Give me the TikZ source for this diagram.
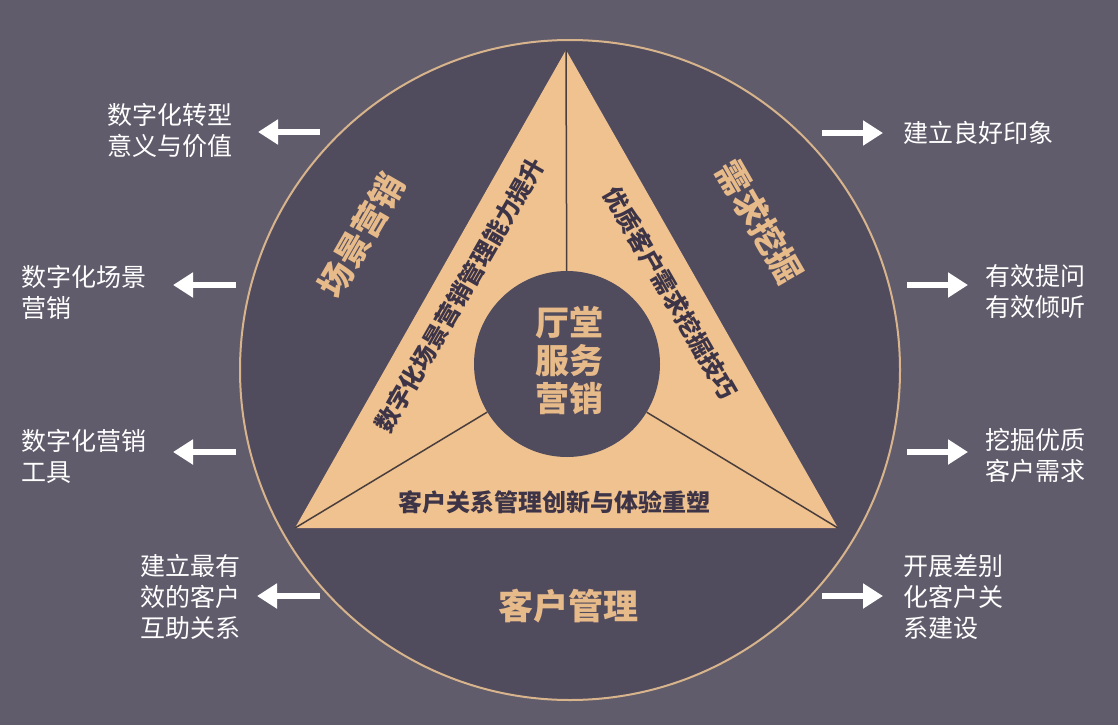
\documentclass[tikz,border=0pt]{standalone}
\usepackage{fontspec}
\newfontfamily\cjk{Noto Sans CJK SC}
\usetikzlibrary{arrows.meta}
\definecolor{bg}{HTML}{615C6B}
\definecolor{disk}{HTML}{514B5E}
\definecolor{tri}{HTML}{EFC290}
\definecolor{tan}{HTML}{E7BA8A}
\definecolor{ink}{HTML}{3D3547}
\definecolor{rim}{HTML}{D8B48D}
\definecolor{seam}{HTML}{4A3E3C}
\begin{document}
\begin{tikzpicture}[x=1pt,y=-1pt,
 side/.style={text=white, font=\cjk\fontsize{25}{31}\selectfont, align=left, inner sep=0pt, anchor=west},
 arr/.style={draw=white, line width=6.5pt, -{Triangle[length=20pt,width=24pt]}},
 sect/.style={text=tan, font=\cjk\bfseries\fontsize{34}{40}\selectfont, inner sep=0pt},
 inner/.style={text=ink, font=\cjk\bfseries\fontsize{24}{28}\selectfont, inner sep=0pt},
 seamline/.style={draw=seam, line width=1.5pt}]
\fill[bg] (0,0) rectangle (1118,725);
\useasboundingbox (0,0) rectangle (1118,725);
\node[circle, fill=disk, draw=rim, line width=2pt, minimum size=660pt, inner sep=0pt] (disk) at (570,370) {};
\coordinate (A) at (566,50);
\coordinate (B) at (295,528);
\coordinate (C) at (838,528);
\fill[tri] (A) -- (B) -- (C) -- cycle;
\node[circle, minimum size=186pt, inner sep=0pt] (hub) at (567,364) {};
\draw[seamline] (hub) -- (B);
\draw[seamline] (hub) -- (C);
\draw[seamline] (hub) -- (A);
\node[circle, fill=disk, minimum size=186pt, inner sep=0pt] (hubfill) at (567,364) {};
\node[text=tan, font=\cjk\bfseries\fontsize{34}{38}\selectfont, align=center, inner sep=0pt] (hubtext) at (569,361) {厅堂\\服务\\营销};
% section labels
\node[sect, rotate=60] (s1) at (361,235) {场景营销};
\node[sect, rotate=-60] (s2) at (760,222) {需求挖掘};
\node[sect, font=\cjk\bfseries\fontsize{35}{40}\selectfont] (s3) at (568,606) {客户管理};
% inner labels
\node[inner, rotate=60] (i1) at (460,295) {数字化场景营销管理能力提升};
\node[inner, rotate=-60] (i2) at (670,293) {优质客户需求挖掘技巧};
\node[inner] (i3) at (554,502) {客户关系管理创新与体验重塑};
% side texts
\node[side] (l1) at (107,131) {数字化转型\\意义与价值};
\node[side] (l2) at (21,292) {数字化场景\\营销};
\node[side] (l3) at (21,456) {数字化营销\\工具};
\node[side] (l4) at (140,597) {建立最有\\效的客户\\互助关系};
\node[side] (r1) at (903,133) {建立良好印象};
\node[side] (r2) at (985,292) {有效提问\\有效倾听};
\node[side] (r3) at (985,455) {挖掘优质\\客户需求};
\node[side] (r4) at (903,597) {开展差别\\化客户关\\系建设};
% arrows
\coordinate (la1) at (320,132); \coordinate (lb1) at (258,132);
\coordinate (la2) at (236,285); \coordinate (lb2) at (173,285);
\coordinate (la3) at (236,452); \coordinate (lb3) at (173,452);
\coordinate (la4) at (320,596); \coordinate (lb4) at (257,596);
\coordinate (ra1) at (822,133); \coordinate (rb1) at (883,133);
\coordinate (ra2) at (907,285); \coordinate (rb2) at (968,285);
\coordinate (ra3) at (907,452); \coordinate (rb3) at (968,452);
\coordinate (ra4) at (822,596); \coordinate (rb4) at (883,596);
\foreach \i in {1,2,3,4} {
  \draw[arr] (la\i) -- (lb\i);
  \draw[arr] (ra\i) -- (rb\i);
}
\end{tikzpicture}
\end{document}
